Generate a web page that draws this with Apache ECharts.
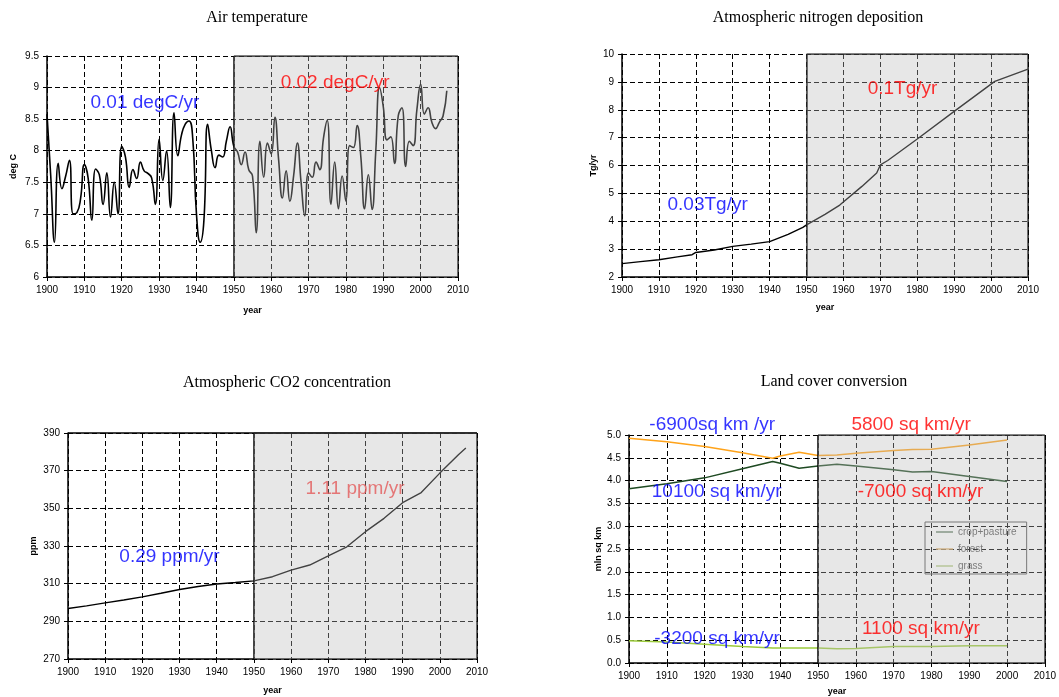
<!DOCTYPE html>
<html lang="en">
<head>
<meta charset="UTF-8">
<title>Drivers 1900-2010</title>
<script src="https://cdn.jsdelivr.net/npm/echarts@6.0.0/dist/echarts.min.js"></script>
<style>
  body { margin: 0; background: #fff; }
  #chart { width: 1059px; height: 697px; }
</style>
</head>
<body>
<div id="chart"></div>
<script>
// ---- data ----
var tempStart = 1900;
var tempValues = [
  8.58, 7.6, 6.55, 7.8, 7.4, 7.6, 7.85, 7.0, 7.02, 7.25,
  7.78, 7.57, 6.9, 7.71, 7.62, 7.15, 7.65, 6.95, 7.5, 7.0,
  8.07, 7.9, 7.42, 7.7, 7.56, 7.82, 7.68, 7.64, 7.57, 7.15,
  8.18, 7.53, 8.0, 7.1, 8.6, 7.92, 8.25, 8.42, 8.47, 8.2,
  7.0, 6.55, 6.9, 8.42, 8.0, 7.73, 7.93, 7.9, 8.15, 8.38,
  8.07, 7.98, 7.78, 7.98, 7.7, 7.6, 6.7, 8.15, 7.58, 8.12,
  7.95, 8.53, 7.85, 7.25, 7.68, 7.2, 7.6, 8.12, 7.5, 6.97,
  7.65, 7.58, 7.82, 7.7, 8.2, 8.48, 7.15, 7.82, 7.08, 7.6,
  7.2, 8.08, 8.05, 8.4, 7.9, 7.08, 7.62, 7.07, 8.0, 9.0,
  8.7, 8.17, 8.22, 7.8, 8.55, 8.68, 7.75, 8.15, 8.08, 8.65,
  9.05, 8.58, 8.68, 8.45, 8.35, 8.45, 8.55, 8.95
];

var nYears = [1900, 1905, 1910, 1915, 1919, 1920, 1925, 1930, 1935, 1940, 1945, 1949, 1950,
              1955, 1959, 1965, 1969, 1970, 1972, 1980, 1990, 2001, 2010];
var nValues = [2.48, 2.55, 2.62, 2.72, 2.8, 2.88, 2.97, 3.1, 3.18, 3.27, 3.53, 3.78, 3.87,
               4.25, 4.58, 5.25, 5.73, 6.02, 6.18, 6.95, 7.94, 9.02, 9.46];

var co2Years = [1900, 1905, 1910, 1915, 1920, 1925, 1930, 1935, 1940, 1945, 1950, 1955,
                1960, 1965, 1970, 1975, 1980, 1985, 1990, 1995, 2000, 2005, 2007];
var co2Values = [296.8, 298.2, 299.8, 301.3, 303, 304.9, 306.9, 308.5, 309.8, 310.6, 311.5, 313.7,
                 317.2, 319.9, 324.7, 329.6, 337.6, 344.7, 353, 358.4, 368.7, 378.5, 382];

var landYears = [1900, 1910, 1920, 1930, 1938, 1940, 1945, 1950, 1955, 1960, 1970, 1975, 1980, 1990, 2000];
var cropValues = [3.82, 3.93, 4.06, 4.26, 4.42, 4.38, 4.27, 4.32, 4.36, 4.32, 4.24, 4.19, 4.2, 4.09, 3.98];
var forestValues = [4.93, 4.85, 4.75, 4.61, 4.49, 4.54, 4.62, 4.55, 4.56, 4.6, 4.66, 4.68, 4.69, 4.78, 4.89];
var grassValues = [0.49, 0.46, 0.41, 0.36, 0.33, 0.33, 0.33, 0.33, 0.31, 0.32, 0.36, 0.36, 0.36, 0.38, 0.38];

var landNames = ['crop+pasture', 'forest', 'grass'];
var shadeX = [1950, 2010];
var titles = ['Air temperature', 'Atmospheric nitrogen deposition',
              'Atmospheric CO2 concentration', 'Land cover conversion'];

// trend labels: [text, year, value]
var notes = [
  [['0.01 degC/yr', 1926.2, 8.76], ['0.02 degC/yr', 1977.1, 9.07]],
  [['0.03Tg/yr', 1923.2, 4.58], ['0.1Tg/yr', 1976, 8.74]],
  [['0.29 ppm/yr', 1927.3, 324.3], ['1.11 ppm/yr', 1977.2, 360.6]],
  [['-6900sq km /yr', 1922, 5.22], ['5800 sq km/yr', 1974.6, 5.22],
   ['10100 sq km/yr', 1923.2, 3.75], ['-7000 sq km/yr', 1977.1, 3.75],
   ['-3200 sq km/yr', 1923.3, 0.54], ['1100 sq km/yr', 1977.2, 0.76]]
];
var noteColors = [
  ['#0000ff', '#ff0000'],
  ['#0000ff', '#ff0000'],
  ['#0000ff', '#e45a5a'],
  ['#0000ff', '#ff0000', '#0000ff', '#ff0000', '#0000ff', '#ff0000']
];

// ---- layout ----
var grids = [
  { left: 47, top: 56, width: 411, height: 221 },
  { left: 622, top: 54, width: 406, height: 223 },
  { left: 68, top: 433, width: 409, height: 226 },
  { left: 629, top: 435, width: 418, height: 229 }
];
var yCfg = [
  { min: 6, max: 9.5, interval: 0.5, name: 'deg C', gap: 29, xgap: 29 },
  { min: 2, max: 10, interval: 1, name: 'Tg/yr', gap: 24, xgap: 26 },
  { min: 270, max: 390, interval: 20, name: 'ppm', gap: 30, xgap: 27 },
  { min: 0, max: 5, interval: 0.5, name: 'mln sq km', gap: 26, xgap: 24 }
];
var titlePos = [[252, 5], [813, 5], [282, 370], [829, 369]];

var sans = 'Liberation Sans, Arial, sans-serif';
var gridDash = { type: [5, 3], color: '#000', width: 1 };

function pairs(xs, ys) {
  return xs.map(function (x, i) { return [x, ys[i]]; });
}

var tempData = tempValues.map(function (v, i) { return [tempStart + i, v]; });

var xAxes = [], yAxes = [], series = [];
grids.forEach(function (g, i) {
  xAxes.push({
    type: 'value', gridIndex: i, min: 1900, max: 2010, interval: 10,
    name: 'year', nameLocation: 'middle', nameGap: yCfg[i].xgap,
    nameTextStyle: { fontFamily: sans, fontSize: 9, fontWeight: 'bold', color: '#000' },
    axisLine: { show: true, onZero: false, lineStyle: { color: '#000', width: 1.5 } },
    axisTick: { show: true, length: 4, lineStyle: { color: '#000' } },
    axisLabel: { fontFamily: sans, fontSize: 10, color: '#000', formatter: function (v) { return String(v); } },
    splitLine: { show: true, lineStyle: gridDash }
  });
  yAxes.push({
    type: 'value', gridIndex: i, min: yCfg[i].min, max: yCfg[i].max, interval: yCfg[i].interval,
    name: yCfg[i].name, nameLocation: 'middle', nameGap: yCfg[i].gap, nameRotate: 90,
    nameTextStyle: { fontFamily: sans, fontSize: 9, fontWeight: 'bold', color: '#000' },
    axisLine: { show: true, lineStyle: { color: '#000', width: 1.5 } },
    axisTick: { show: true, length: 4, lineStyle: { color: '#000' } },
    axisLabel: {
      fontFamily: sans, fontSize: 10, color: '#000',
      formatter: i === 3 ? function (v) { return v.toFixed(1); } : function (v) { return String(v); }
    },
    splitLine: { show: true, lineStyle: gridDash }
  });

  // grey period box, drawn over the lines so they fade behind it
  series.push({
    type: 'line', xAxisIndex: i, yAxisIndex: i, silent: true, z: 5,
    data: shadeX.map(function (x) { return [x, yCfg[i].max]; }),
    symbol: 'none',
    lineStyle: { color: '#222', width: 1.5 },
    areaStyle: { color: 'rgba(188,188,188,0.5)', origin: 'start' },
    markLine: {
      silent: true, symbol: 'none', label: { show: false },
      lineStyle: { color: '#000', type: 'solid', width: 1.5 },
      data: shadeX.map(function (x) { return { xAxis: x }; })
    }
  });

  series.push({
    type: 'scatter', xAxisIndex: i, yAxisIndex: i, silent: true, z: 10, clip: false,
    symbolSize: 1, itemStyle: { color: 'rgba(0,0,0,0)' },
    data: notes[i].map(function (n, k) {
      return {
        value: [n[1], n[2]], name: n[0],
        label: { color: noteColors[i][k] }
      };
    }),
    label: {
      show: true, position: 'inside', formatter: '{b}',
      fontFamily: sans, fontSize: 19, textBorderWidth: 0, textShadowBlur: 0
    }
  });
});

series.push({
  type: 'line', xAxisIndex: 0, yAxisIndex: 0, data: tempData, smooth: 0.5,
  symbol: 'none', lineStyle: { color: '#000', width: 1.6 }
});
series.push({
  type: 'line', xAxisIndex: 1, yAxisIndex: 1, data: pairs(nYears, nValues),
  symbol: 'none', lineStyle: { color: '#000', width: 1.4 }
});
series.push({
  type: 'line', xAxisIndex: 2, yAxisIndex: 2, data: pairs(co2Years, co2Values),
  symbol: 'none', lineStyle: { color: '#000', width: 1.4 },
  markLine: {
    silent: true, symbol: 'none', label: { show: false },
    lineStyle: { color: '#000', type: 'solid', width: 1.5 },
    data: [{ yAxis: yCfg[2].max }]
  }
});
var landColors = ['#1e4a22', '#ffa31a', '#9ccb3c'];
var landFaded = ['#5f7a61', '#dcae6a', '#b0c880'];
[cropValues, forestValues, grassValues].forEach(function (vals, k) {
  series.push({
    type: 'line', name: landNames[k], xAxisIndex: 3, yAxisIndex: 3,
    data: pairs(landYears, vals), symbol: 'none',
    color: landColors[k], lineStyle: { color: landColors[k], width: 1.5 }
  });
});

var option = {
  animation: false,
  title: titles.map(function (t, i) {
    return {
      text: t, left: titlePos[i][0], top: titlePos[i][1], textAlign: 'center',
      textStyle: { fontFamily: 'Liberation Serif, Times New Roman, serif', fontSize: 16, fontWeight: 'normal', color: '#000' }
    };
  }),
  grid: grids,
  xAxis: xAxes,
  yAxis: yAxes,
  legend: {
    orient: 'vertical', left: 925, top: 522,
    padding: [5, 10, 3, 11], itemGap: 7, itemWidth: 17, itemHeight: 10,
    borderColor: '#555', borderWidth: 1,
    textStyle: { fontFamily: sans, fontSize: 10, color: '#5a5a5a' },
    data: landNames.map(function (n, k) {
      return {
        name: n,
        icon: 'path://M0,4.3 L17,4.3 L17,5.7 L0,5.7 Z',
        itemStyle: { color: landFaded[k], borderWidth: 0 }
      };
    })
  },
  series: series
};

var chart = echarts.init(document.getElementById('chart'));
chart.setOption(option);
</script>
</body>
</html>
